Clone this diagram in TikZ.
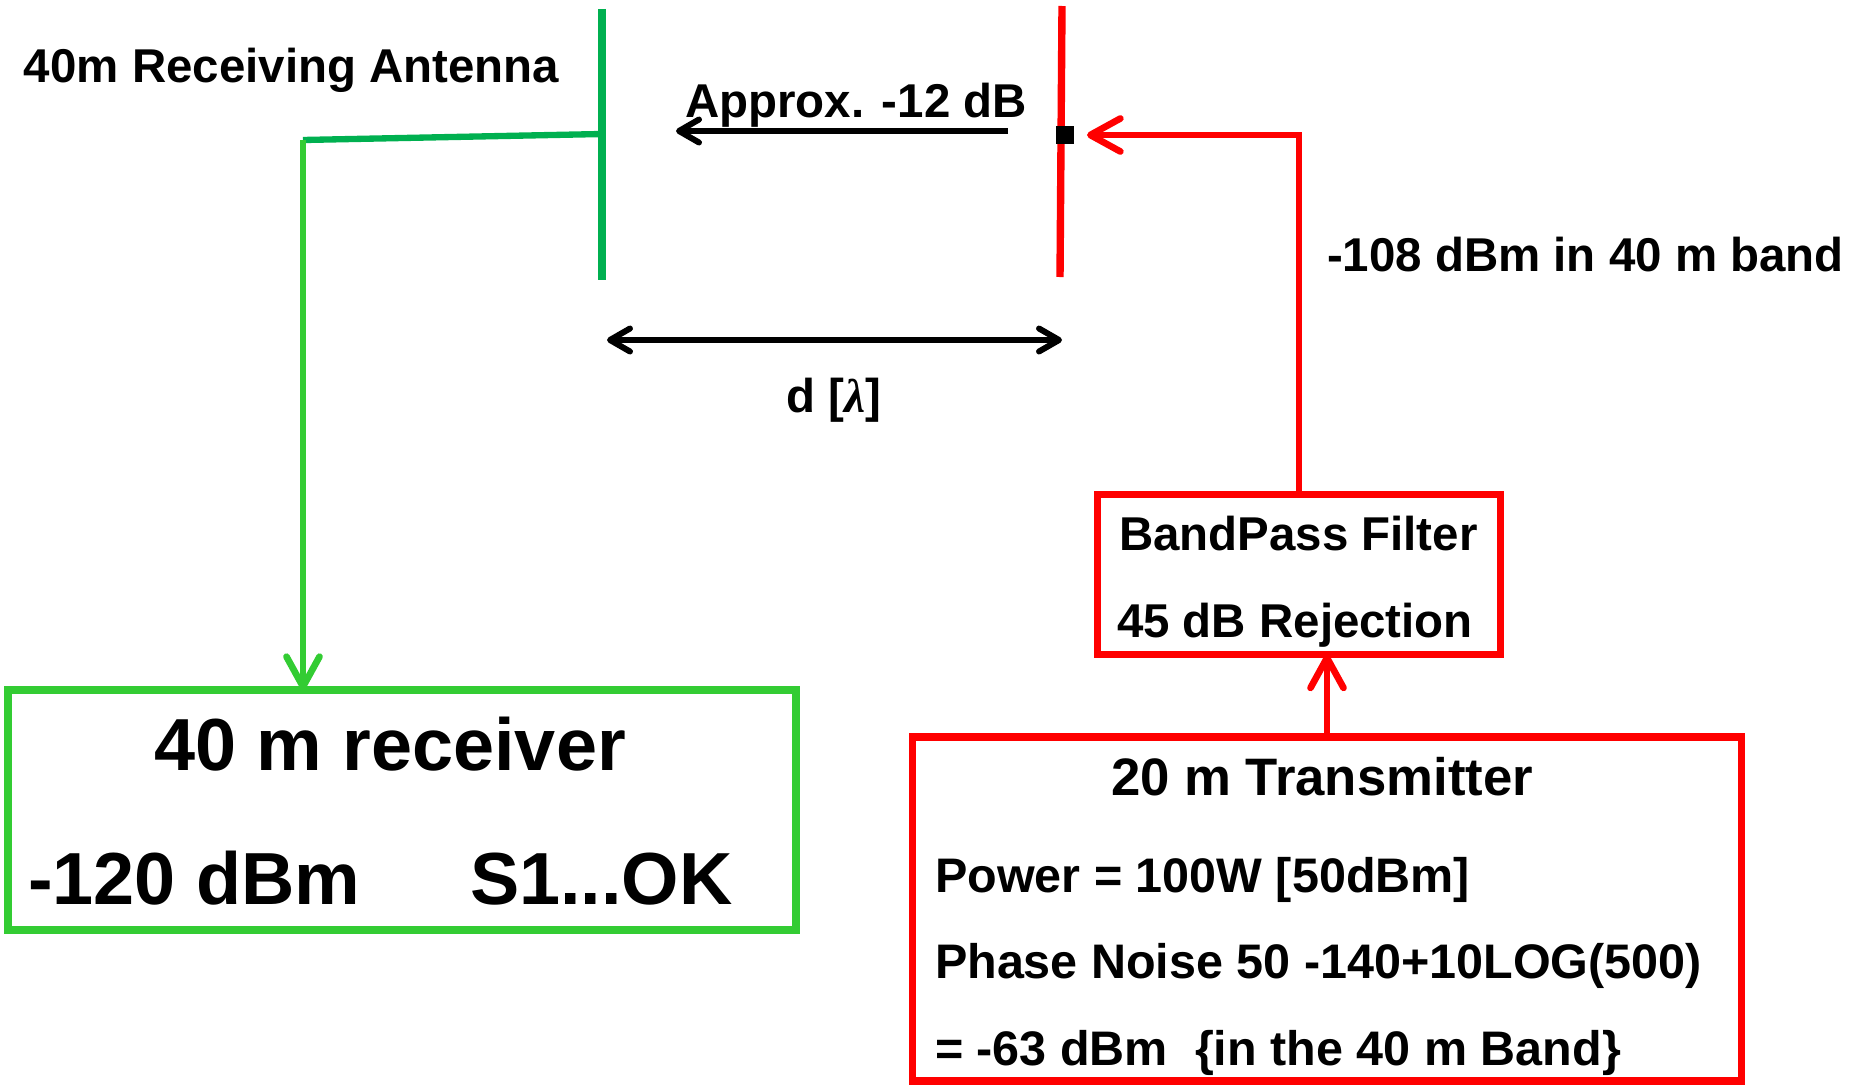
\documentclass[tikz,border=0pt]{standalone}
\usepackage{fontspec}
\setmainfont{Liberation Sans}
\newfontfamily\greekfont{Liberation Serif}
\usepackage{xcolor}
\usetikzlibrary{positioning}
\usetikzlibrary{calc,arrows.meta}
\definecolor{antgreen}{RGB}{0,176,80}
\definecolor{rxgreen}{RGB}{51,204,51}
\definecolor{txred}{RGB}{255,0,0}

\begin{document}
\begin{tikzpicture}[every node/.style={outer sep=0pt},
		box/.style={draw,line width=2.2pt,inner sep=0pt},
		antenna/.style={line width=2.1pt},
		feed/.style={line width=1.9pt,-{Straight Barb[round,length=3mm,width=3.3mm]}},
		meas/.style={line width=1.7pt,black},
		small/.style={font=\fontsize{13.5}{16}\selectfont\bfseries,inner sep=0pt},
		mid/.style={font=\fontsize{13.8}{17}\selectfont\bfseries,inner sep=0pt},
		big/.style={font=\fontsize{21}{25}\selectfont\bfseries,inner sep=0pt},
		]
		\useasboundingbox (0,0) rectangle (18.54,10.90);

		% receiving side
		\coordinate (rxtop) at (6.02,10.81);
		\coordinate (rxbot) at (6.02,8.10);
		\coordinate (rxfeed) at (6.02,9.56);
		\coordinate (rxbend) at (3.03,9.50);
		\draw[antenna,antgreen] (rxtop) -- (rxbot);
		\node[small,anchor=base west] (rxant) at (0.24,10.08) {40m Receiving Antenna};

		\node[box,draw=rxgreen,minimum width=7.88cm,minimum height=2.40cm] (rx) at (4.02,2.80) {};
		\node[big,anchor=base west] (rxname) at (1.54,3.20) {40 m receiver};
		\node[big,anchor=base west] (rxlevel) at (0.28,1.86) {-120 dBm\hspace{1.49em}S1...OK};

		\draw[line width=1.8pt,antgreen] (rxfeed) -- (rxbend);
		\draw[feed,rxgreen] (rxbend) -- (rxbend |- rx.north);

		% transmitting side
		\coordinate (txtop) at (10.62,10.84);
		\coordinate (txbot) at (10.60,8.13);
		\draw[antenna,txred] (txtop) -- (txbot);
		\node[fill=black,minimum size=0.18cm,inner sep=0pt] (port) at (10.65,9.55) {};

		\node[box,draw=txred,minimum width=4.03cm,minimum height=1.60cm] (bpf) at (12.99,5.155) {};
		\node[small,anchor=base west] (bpfname) at (11.19,5.40) {BandPass Filter};
		\node[small,anchor=base west] (bpfrej) at (11.17,4.53) {45 dB Rejection};

		\node[box,draw=txred,minimum width=8.29cm,minimum height=3.44cm] (tx) at (13.27,1.81) {};
		\node[font=\fontsize{15}{18}\selectfont\bfseries,inner sep=0pt,anchor=base] (txname) at (13.22,2.95) {20 m Transmitter};
		\node[mid,anchor=base west] (txpower) at (9.35,1.98) {Power = 100W [50dBm]};
		\node[mid,anchor=base west] (txnoise) at (9.35,1.12) {Phase Noise 50 -140+10LOG(500)};
		\node[mid,anchor=base west] (txband) at (9.35,0.25) {= -63 dBm\ \ \{in the 40 m Band\}};

		\draw[feed,txred] (tx.north) -- (tx.north |- bpf.south);
		\draw[feed,txred] (bpf.north) |- ([xshift=1.3mm]port.east);
		\node[small,anchor=base west] (leak) at (13.27,8.19) {-108 dBm in 40 m band};

		% coupling between the two antennas
		\coordinate (cplfrom) at (10.08,9.59);
		\coordinate (cplto) at (6.76,9.59);
		\draw[meas,-{Straight Barb[round,length=2mm,width=2.3mm]}] (cplfrom) -- (cplto);
		\node[small,anchor=base west] (approx) at (6.85,9.73) {Approx. -12 dB};

		\coordinate (dleft) at (6.07,7.50);
		\coordinate (dright) at (10.62,7.50);
		\draw[meas,{Straight Barb[round,length=2mm,width=2.3mm]}-{Straight Barb[round,length=2mm,width=2.3mm]}] (dleft) -- (dright);
		\node[small,anchor=base] (dist) at (8.34,6.78) {d [{\greekfont\bfseries\itshape λ}]};
	\end{tikzpicture}
\end{document}
